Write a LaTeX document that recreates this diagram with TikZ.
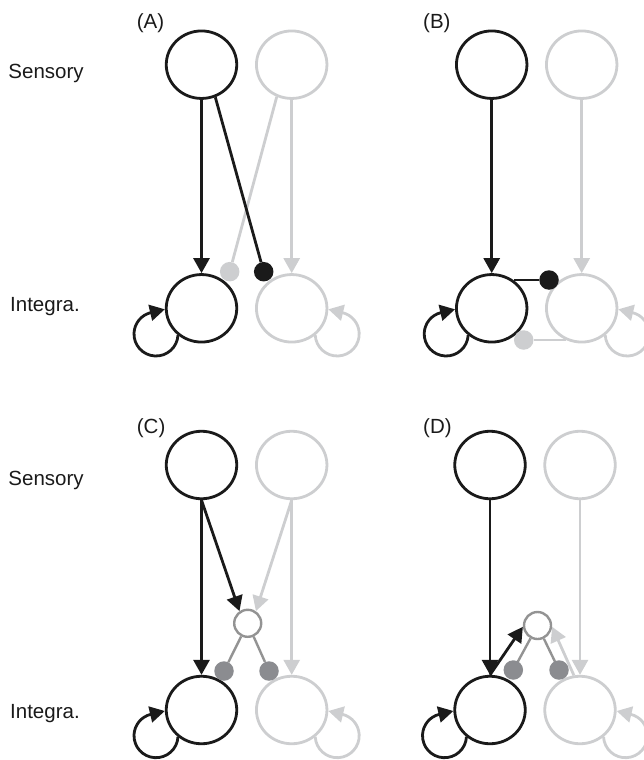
\documentclass[tikz,border=0pt]{standalone}
\usepackage{fontspec}
\setmainfont{Liberation Sans}
\usetikzlibrary{arrows.meta,shapes.geometric}
\definecolor{ink}{HTML}{1A1A1A}
\definecolor{light}{HTML}{CDCED0}
\definecolor{midgray}{HTML}{8B8C90}
\definecolor{intgray}{HTML}{939393}
\tikzset{
  big/.style={ellipse, draw, line width=2.8pt, minimum width=70.5pt, minimum height=67.5pt, inner sep=0pt},
  inkc/.style={draw=ink},
  lightc/.style={draw=light},
  con/.style={line width=2.8pt},
  arr/.style={con, -{Triangle[length=15pt,width=16pt]}},
  bdot/.style={circle, fill=ink, minimum size=19.5pt, inner sep=0pt},
  ldot/.style={circle, fill=light, minimum size=19.5pt, inner sep=0pt},
  mdot/.style={circle, fill=midgray, minimum size=19.5pt, inner sep=0pt},
  inter/.style={circle, draw=intgray, fill=white, line width=2.4pt, minimum size=27pt, inner sep=0pt},
  lbl/.style={anchor=base west, inner sep=0pt, font=\fontsize{20.5pt}{24pt}\selectfont, text=ink},
}
\newcommand{\leftloop}[2]{\draw[arr,#2] ([shift={(-45.5,25.7)}]#1.center) ++(3:22) arc[start angle=3,end angle=256,radius=22] -- ([shift={(0,1)}]#1.west);}
\newcommand{\rightloop}[2]{\draw[arr,#2] ([shift={(45.5,25.7)}]#1.center) ++(177:22) arc[start angle=177,end angle=-76,radius=22] -- ([shift={(0,1)}]#1.east);}
\begin{document}
\begin{tikzpicture}[x=1pt,y=-1pt]
\useasboundingbox (0,0) rectangle (644,760);
\clip (0,0) rectangle (644,760);

% labels
\node[lbl] (lS1) at (8.3,78.3) {Sensory};
\node[lbl] (lI1) at (10,311.7) {Integra.};
\node[lbl] (lS2) at (8.3,485) {Sensory};
\node[lbl] (lI2) at (10,718.3) {Integra.};
\node[lbl] (lA) at (136.7,28.3) {(A)};
\node[lbl] (lB) at (423,28.3) {(B)};
\node[lbl] (lC) at (136.7,433) {(C)};
\node[lbl] (lD) at (423,433) {(D)};

% ---------- Panel A ----------
\node[big,lightc] (aSR) at (291.7,64.7) {};
\node[big,lightc] (aIR) at (291.7,308.3) {};
\node[big,inkc] (aSL) at (201.5,64.7) {};
\node[big,inkc] (aIL) at (201.5,308.3) {};
\node[ldot] (aD2) at (229.7,271.7) {};
\node[bdot] (aD1) at (263.7,271.7) {};
\draw[arr,light] (aSR) -- (aIR);
\draw[con,light] (aSR.-115) -- (aD2);
\draw[con,ink] (aSL.-67) -- (aD1);
\draw[arr,ink] (aSL) -- (aIL);
\rightloop{aIR}{light}
\leftloop{aIL}{ink}

% ---------- Panel B ----------
\node[big,lightc] (bSR) at (581.7,64.7) {};
\node[big,lightc] (bIR) at (581.7,308.3) {};
\node[big,inkc] (bSL) at (491.7,64.7) {};
\node[big,inkc] (bIL) at (491.7,308.3) {};
\node[bdot] (bD1) at (549,280) {};
\node[ldot] (bD2) at (523.7,340) {};
\draw[arr,light] (bSR) -- (bIR);
\draw[arr,ink] (bSL) -- (bIL);
\draw[con,ink] (bD1 -| bIL.51) -- (bD1);
\draw[con,light] (bD2) -- (bD2 -| bIR.243);
\rightloop{bIR}{light}
\leftloop{bIL}{ink}

% ---------- Panel C ----------
\node[big,lightc] (cSR) at (291.7,465) {};
\node[big,lightc] (cIR) at (291.7,710) {};
\node[big,inkc] (cSL) at (201.5,465) {};
\node[big,inkc] (cIL) at (201.5,710) {};
\node[inter] (cN) at (247.7,623.3) {};
\node[mdot] (cD1) at (224,671) {};
\node[mdot] (cD2) at (269,671) {};
\draw[arr,light] (cSR) -- (cIR);
\draw[arr,light] (cSR.south) -- (cN.56);
\draw[arr,ink] (cSL) -- (cIL);
\draw[arr,ink] (cSL.south) -- (cN.124);
\draw[con,intgray,line width=2.4pt] (cN) -- (cD1);
\draw[con,intgray,line width=2.4pt] (cN) -- (cD2);
\rightloop{cIR}{light}
\leftloop{cIL}{ink}

% ---------- Panel D ----------
\node[big,lightc] (dSR) at (580,465) {};
\node[big,lightc] (dIR) at (580,710) {};
\node[big,inkc] (dSL) at (490,465) {};
\node[big,inkc] (dIL) at (490,710) {};
\node[inter] (dN) at (537.5,625.5) {};
\draw[arr,light] (dSR) -- (dIR);
\draw[arr,light] (dIR.100) -- (dN.-5);
\draw[arr,ink] (dSL) -- (dIL);
\draw[arr,ink] (dIL.north) -- (dN.185);
\draw[con,intgray,line width=2.4pt] (dN) -- (513.3,670) coordinate (dC1);
\draw[con,intgray,line width=2.4pt] (dN) -- (559,670) coordinate (dC2);
\node[mdot] (dD1) at (dC1) {};
\node[mdot] (dD2) at (dC2) {};
\rightloop{dIR}{light}
\leftloop{dIL}{ink}
\end{tikzpicture}
\end{document}
